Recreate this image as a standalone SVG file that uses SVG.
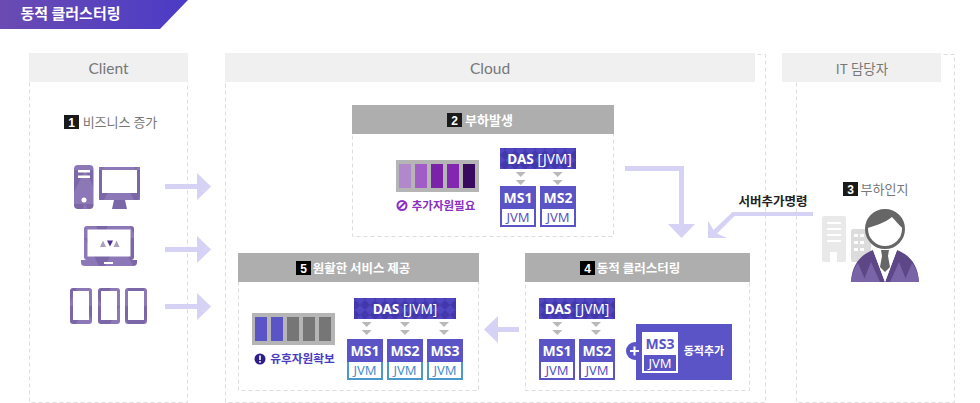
<svg xmlns="http://www.w3.org/2000/svg" width="980" height="403" viewBox="0 0 980 403">
<style>
text{font-family:"Noto Sans CJK KR","Noto Sans",sans-serif;text-anchor:middle}
.lat{font-family:Lato,"Noto Sans CJK KR",sans-serif;font-size:15.500px;fill:#777}
.dash{fill:none;stroke:#ddd;stroke-width:1;stroke-dasharray:4 3}
.hdr{fill:#f0f0f0}
.phd{fill:#aeaeae}
.badge{fill:#1a1a1a}
.num{font-family:"Liberation Sans",sans-serif;font-size:12px;font-weight:700;fill:#fff}
.ptitle{font-size:12.500px;font-weight:700;fill:#fff}
.gtitle{font-size:13px;fill:#777}
.ms{fill:#5a54c6}
.white{fill:#fff}
.mst{font-family:"Noto Sans",sans-serif;font-size:14px;font-weight:700;fill:#fff}
.jvm{font-family:"Noto Sans",sans-serif;font-size:13px;fill:#5a54c6}
.jvm2{font-family:"Noto Sans",sans-serif;font-size:13px;fill:#4a8fc8}
.das{font-family:"Noto Sans",sans-serif;font-size:13.600px;font-weight:700;fill:#fff}
.dasl{font-weight:400}
.arr{fill:#d5d2f5}
.chev{fill:#b9b9b9}
.slot{fill:#b5b5b5}
</style>
<defs>
<linearGradient id="bannerFill" x1="0" y1="0" x2="1" y2="0">
<stop offset="0" stop-color="#6a4bb2"/>
<stop offset="1" stop-color="#4b3bc6"/>
</linearGradient>
<pattern id="diamonds" width="10" height="10" patternUnits="userSpaceOnUse">
<rect width="10" height="10" fill="#5046c2"/>
<path d="M5 0L10 5L5 10L0 5Z" fill="#4238ab"/>
</pattern>
<pattern id="facets" width="34" height="34" patternUnits="userSpaceOnUse">
<rect width="34" height="34" fill="#7b66a7"/>
<path d="M0 34L17 0L34 34Z" fill="#8c78b6"/>
</pattern>
<g id="chevs">
<path class="chev" d="M-5 0H5L0 5Z"/>
<path class="chev" d="M-5 7H5L0 12Z" transform="translate(0 1)"/>
</g>
</defs>

<g id="banner">
<path d="M0 0H188L160 29H0Z" fill="url(#bannerFill)"/>
<text x="70.500" y="19" font-size="15" font-weight="700" fill="#fff">동적 클러스터링</text>
</g>

<g id="client">
<rect class="dash" x="29.500" y="54.500" width="158" height="348"/>
<rect class="hdr" x="29" y="53" width="159" height="29"/>
<text class="lat" x="108.500" y="74">Client</text>
<rect class="badge" x="64" y="115" width="15" height="14"/>
<text class="num" x="71.500" y="126.500">1</text>
<text class="gtitle" x="120" y="126.500">비즈니스 증가</text>
<g id="desktop">
<rect x="74" y="165" width="19.500" height="44" rx="4" fill="url(#facets)"/>
<rect class="white" x="78" y="170" width="12" height="2.500"/>
<rect class="white" x="78" y="175.500" width="12" height="2.500"/>
<circle class="white" cx="84" cy="200" r="2.500"/>
<rect x="99" y="167" width="41" height="33" fill="url(#facets)"/>
<rect class="white" x="102" y="170" width="35" height="23"/>
<path d="M114 200H125L127 209H112Z" fill="#7b66a7"/>
</g>
<g id="laptop">
<rect x="84" y="226" width="50" height="34" rx="3" fill="url(#facets)"/>
<rect class="white" x="87.500" y="229.500" width="43" height="27"/>
<path d="M81 260H137V262.500Q137 266 133 266H85Q81 266 81 262.500Z" fill="url(#facets)"/>
<rect class="white" x="104" y="262" width="9" height="2"/>
<path d="M100 247L103 240.500L106 247Z" fill="#a9a0bd"/>
<path d="M107 240.500H113L110 246.500Z" fill="#4d2f9a"/>
<path d="M113.500 247L116.500 240.500L119.500 247Z" fill="#a9a0bd"/>
</g>
<g id="tablets">
<rect x="70" y="288" width="22" height="36" rx="3" fill="url(#facets)"/>
<rect class="white" x="73" y="291" width="16" height="29"/>
<rect x="98" y="288" width="22" height="36" rx="3" fill="url(#facets)"/>
<rect class="white" x="101" y="291" width="16" height="29"/>
<rect x="125" y="288" width="22" height="36" rx="3" fill="url(#facets)"/>
<rect class="white" x="128" y="291" width="16" height="29"/>
</g>
</g>

<g id="cloud">
<rect class="dash" x="225.500" y="54.500" width="540" height="348"/>
<rect class="hdr" x="225" y="53" width="530" height="29"/>
<text class="lat" x="490" y="74">Cloud</text>
</g>

<g id="it-manager">
<rect class="dash" x="796.500" y="54.500" width="158" height="348"/>
<rect class="hdr" x="782" y="53" width="159" height="29"/>
<text x="862" y="74" font-size="13.500" fill="#777">IT 담당자</text>
<rect class="badge" x="843" y="182" width="15" height="14"/>
<text class="num" x="850.500" y="193.500">3</text>
<text class="gtitle" x="884.500" y="193.500">부하인지</text>
<g id="buildings">
<rect x="822" y="216" width="24" height="46" rx="2" fill="#e9e9e9"/>
<rect class="white" x="827" y="222" width="14" height="2"/>
<rect class="white" x="827" y="228" width="14" height="2"/>
<rect class="white" x="827" y="234" width="14" height="2"/>
<rect class="white" x="827" y="240" width="14" height="2"/>
<rect class="white" x="830" y="252" width="7" height="10"/>
<rect x="851" y="229" width="20" height="33" rx="2" fill="#dcdcdc"/>
<rect class="white" x="854" y="234" width="4" height="3"/>
<rect class="white" x="860" y="234" width="4" height="3"/>
<rect class="white" x="854" y="241" width="4" height="3"/>
<rect class="white" x="860" y="241" width="4" height="3"/>
<rect class="white" x="854" y="248" width="4" height="3"/>
<rect class="white" x="860" y="248" width="4" height="3"/>
</g>
<g id="person">
<path d="M851 282C852 265 860 255 873 250L885 282L897 250C910 255 918 265 919 282Z" fill="#5d4787"/>
<path d="M851 282C852 274 854 268 858 263L866 282Z" fill="#7a64a8"/>
<path d="M863 282L871 262L880 282Z" fill="#7a64a8"/>
<path d="M890 282L899 262L907 282Z" fill="#7a64a8"/>
<path d="M904 282L912 263C916 268 918 274 919 282Z" fill="#7a64a8"/>
<path d="M873 250H897L885 282Z" fill="#fff"/>
<path d="M881 250H889L888 256L890 267L885 272L880 267L882 256Z" fill="#666"/>
<circle cx="885" cy="229" r="18.500" fill="#fff" stroke="#666" stroke-width="3"/>
<path d="M867.500 228C867 216 875 210 885 210C895 210 903 216 902.500 228C898 224 894 219 892 217C885 223 874 226 867.500 228Z" fill="#666"/>
</g>
</g>

<g id="step2">
<rect class="dash" x="352.500" y="106.500" width="261" height="130"/>
<rect class="phd" x="352" y="105" width="262" height="29"/>
<rect class="badge" x="447" y="113" width="15" height="14"/>
<text class="num" x="454.500" y="124.500">2</text>
<text x="489" y="124.500" font-size="13" font-weight="700" fill="#fff">부하발생</text>
<rect class="slot" x="396" y="160" width="83" height="32"/>
<rect x="399" y="164" width="12" height="24" fill="#b288cc"/>
<rect x="415" y="164" width="12" height="24" fill="#a25cc8"/>
<rect x="431" y="164" width="12" height="24" fill="#7a22a8"/>
<rect x="447" y="164" width="12" height="24" fill="#8427b0"/>
<rect x="463" y="164" width="12" height="24" fill="#3a0a5e"/>
<circle cx="402" cy="205.500" r="4.500" fill="none" stroke="#8a2fc0" stroke-width="2"/>
<path d="M399 208.500L405 202.500" stroke="#8a2fc0" stroke-width="2"/>
<text x="443.500" y="209.500" font-size="11.500" font-weight="700" fill="#8a2fc0">추가자원필요</text>
<rect x="500" y="148" width="76" height="21" fill="url(#diamonds)"/>
<text class="das" x="539.500" y="163.500">DAS <tspan class="dasl">[JVM]</tspan></text>
<use href="#chevs" x="520.700" y="172"/>
<use href="#chevs" x="557.700" y="172"/>
<rect class="ms" x="500" y="186" width="36" height="41"/>
<rect class="white" x="502" y="209" width="32" height="16"/>
<text class="mst" x="518" y="203">MS1</text>
<text class="jvm" x="518" y="222">JVM</text>
<rect class="ms" x="540" y="186" width="36" height="41"/>
<rect class="white" x="542" y="209" width="32" height="16"/>
<text class="mst" x="558" y="203">MS2</text>
<text class="jvm" x="558" y="222">JVM</text>
</g>

<g id="step5">
<rect class="dash" x="238.500" y="254.500" width="240" height="136"/>
<rect class="phd" x="238" y="253" width="241" height="29"/>
<rect x="296" y="261" width="15" height="14" fill="#000"/>
<text class="num" x="303.500" y="272.500">5</text>
<text class="ptitle" x="361.500" y="272.500">원활한 서비스 제공</text>
<rect class="slot" x="252" y="313" width="83" height="32"/>
<rect class="ms" x="255" y="317" width="12" height="24"/>
<rect class="ms" x="271" y="317" width="12" height="24"/>
<rect x="287" y="317" width="12" height="24" fill="#767676"/>
<rect x="303" y="317" width="12" height="24" fill="#767676"/>
<rect x="319" y="317" width="12" height="24" fill="#767676"/>
<circle cx="260" cy="359" r="5.500" fill="#2e1f88"/>
<rect class="white" x="259.200" y="355.500" width="1.600" height="4.500"/>
<rect class="white" x="259.200" y="361" width="1.600" height="1.600"/>
<text x="302.500" y="363" font-size="11.700" font-weight="700" fill="#4a3bc4">유후자원확보</text>
<rect x="354" y="298" width="102" height="21" fill="url(#diamonds)"/>
<text class="das" x="405" y="313.500">DAS <tspan class="dasl">[JVM]</tspan></text>
<use href="#chevs" x="366.700" y="322"/>
<use href="#chevs" x="405" y="322"/>
<use href="#chevs" x="444" y="322"/>
<rect x="347" y="339" width="36" height="41" fill="#4a98cc"/>
<rect class="ms" x="347" y="339" width="36" height="23"/>
<rect class="white" x="349" y="362" width="32" height="16"/>
<text class="mst" x="365" y="356">MS1</text>
<text class="jvm2" x="365" y="375">JVM</text>
<rect x="387" y="339" width="36" height="41" fill="#4a98cc"/>
<rect class="ms" x="387" y="339" width="36" height="23"/>
<rect class="white" x="389" y="362" width="32" height="16"/>
<text class="mst" x="405" y="356">MS2</text>
<text class="jvm2" x="405" y="375">JVM</text>
<rect x="427" y="339" width="36" height="41" fill="#4a98cc"/>
<rect class="ms" x="427" y="339" width="36" height="23"/>
<rect class="white" x="429" y="362" width="32" height="16"/>
<text class="mst" x="445" y="356">MS3</text>
<text class="jvm2" x="445" y="375">JVM</text>
</g>

<g id="step4">
<rect class="dash" x="525.500" y="254.500" width="224" height="136"/>
<rect class="phd" x="525" y="253" width="225" height="29"/>
<rect x="580" y="261" width="15" height="14" fill="#000"/>
<text class="num" x="587.500" y="272.500">4</text>
<text class="ptitle" x="638.500" y="272.500">동적 클러스터링</text>
<rect x="539" y="298" width="76" height="21" fill="url(#diamonds)"/>
<text class="das" x="577" y="313.500">DAS <tspan class="dasl">[JVM]</tspan></text>
<use href="#chevs" x="557.300" y="322"/>
<use href="#chevs" x="596" y="322"/>
<rect class="ms" x="539" y="339" width="36" height="41"/>
<rect class="white" x="541" y="362" width="32" height="16"/>
<text class="mst" x="557" y="356">MS1</text>
<text class="jvm" x="557" y="375">JVM</text>
<rect class="ms" x="579" y="339" width="36" height="41"/>
<rect class="white" x="581" y="362" width="32" height="16"/>
<text class="mst" x="597" y="356">MS2</text>
<text class="jvm" x="597" y="375">JVM</text>
<g id="ms3-added">
<circle class="ms" cx="635" cy="351" r="9"/>
<rect class="ms" x="636" y="324" width="96" height="56"/>
<rect class="white" x="630" y="350" width="9" height="2"/>
<rect class="white" x="633.500" y="346.500" width="2" height="9"/>
<rect class="white" x="642" y="332" width="36" height="41"/>
<rect class="ms" x="644" y="355" width="32" height="16"/>
<text x="660" y="349" font-size="14" font-weight="700" fill="#5a54c6" style="font-family:'Noto Sans',sans-serif">MS3</text>
<text x="660" y="368" font-size="13" fill="#fff" style="font-family:'Noto Sans',sans-serif">JVM</text>
<text x="704" y="355" font-size="11" font-weight="700" fill="#fff">동적추가</text>
</g>
</g>

<g id="connectors">
<path class="arr" d="M165 184H197V173L211 186.500L197 200V189H165Z"/>
<path class="arr" d="M165 247H197V236L211 249.500L197 263V252H165Z"/>
<path class="arr" d="M165 304H197V293L211 306.500L197 320V309H165Z"/>
<path class="arr" d="M625 166H684V224H695L681.500 238L668 224H679V171H625Z"/>
<path class="arr" d="M813 212V216H734.500L717 233.500L727 238H708V220.700L713.500 230L732.500 212Z"/>
<path class="arr" d="M519 327H498V316L484 329.500L498 343V332H519Z"/>
<text x="773" y="205.500" font-size="12.500" font-weight="700" fill="#222">서버추가명령</text>
</g>
</svg>
